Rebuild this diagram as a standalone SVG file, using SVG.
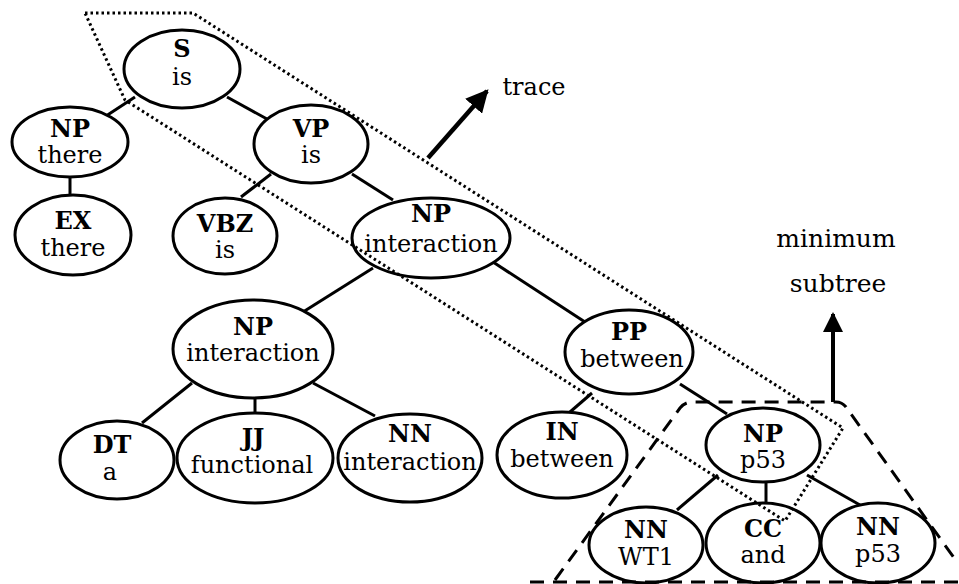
<svg xmlns="http://www.w3.org/2000/svg" width="959" height="584" viewBox="0 0 959 584">
<style>
.n ellipse{fill:#fff;stroke:#000;stroke-width:3}
.e line{stroke:#000;stroke-width:3}
text{font-family:"DejaVu Serif","Liberation Serif",serif;font-size:24px;fill:#000;text-anchor:middle}
.b{font-weight:bold}
.dot{fill:none;stroke:#000;stroke-width:3;stroke-dasharray:2.5 3}
.dash{fill:none;stroke:#000;stroke-width:3;stroke-dasharray:14 9}
</style>
<defs>
<marker id="ah" viewBox="0 0 10 10" refX="9" refY="5" markerWidth="5" markerHeight="5" orient="auto" markerUnits="strokeWidth">
<path d="M0,0 L10,5 L0,10 z" fill="#000"/>
</marker>
</defs>
<rect width="959" height="584" fill="#fff"/>
<g id="connectors" class="e">
<line x1="135" y1="97" x2="106" y2="116"/>
<line x1="227" y1="97" x2="267" y2="119"/>
<line x1="70" y1="177" x2="70" y2="195"/>
<line x1="271" y1="174" x2="241" y2="197"/>
<line x1="352" y1="174" x2="393" y2="200"/>
<line x1="373" y1="268" x2="303" y2="312"/>
<line x1="493" y1="262" x2="585" y2="322"/>
<line x1="192" y1="383" x2="142" y2="423"/>
<line x1="255" y1="397" x2="255" y2="413"/>
<line x1="313" y1="383" x2="375" y2="416"/>
<line x1="592" y1="393" x2="570" y2="412"/>
<line x1="680" y1="384" x2="727" y2="414"/>
<line x1="718" y1="475" x2="677" y2="510"/>
<line x1="766" y1="483" x2="766" y2="503"/>
<line x1="807" y1="475" x2="860" y2="505"/>
</g>
<g id="S"><g class="n"><ellipse cx="182" cy="69" rx="58" ry="39"/></g><text class="b" x="182" y="57">S</text><text x="182" y="85">is</text></g>
<g id="NP-there"><g class="n"><ellipse cx="70" cy="142" rx="58" ry="35"/></g><text class="b" x="70" y="137">NP</text><text x="70" y="163">there</text></g>
<g id="EX-there"><g class="n"><ellipse cx="73" cy="235" rx="58" ry="40"/></g><text class="b" x="73" y="229">EX</text><text x="73" y="256">there</text></g>
<g id="VP-is"><g class="n"><ellipse cx="311" cy="144" rx="57" ry="39"/></g><text class="b" x="311" y="137">VP</text><text x="311" y="163">is</text></g>
<g id="VBZ-is"><g class="n"><ellipse cx="225" cy="236" rx="52" ry="38"/></g><text class="b" x="225" y="232">VBZ</text><text x="225" y="258">is</text></g>
<g id="NP-interaction"><g class="n"><ellipse cx="431" cy="238" rx="79" ry="40"/></g><text class="b" x="431" y="222">NP</text><text x="431" y="252">interaction</text></g>
<g id="NP-interaction2"><g class="n"><ellipse cx="253" cy="349" rx="80" ry="49"/></g><text class="b" x="253" y="335">NP</text><text x="253" y="361">interaction</text></g>
<g id="DT-a"><g class="n"><ellipse cx="117" cy="460" rx="57" ry="39"/></g><text class="b" x="112" y="453">DT</text><text x="110" y="480">a</text></g>
<g id="JJ-functional"><g class="n"><ellipse cx="255" cy="458" rx="78" ry="45"/></g><text class="b" x="253" y="446">JJ</text><text x="252" y="473">functional</text></g>
<g id="NN-interaction"><g class="n"><ellipse cx="410" cy="458" rx="72" ry="44"/></g><text class="b" x="410" y="442">NN</text><text x="410" y="470">interaction</text></g>
<g id="PP-between"><g class="n"><ellipse cx="629" cy="352" rx="64" ry="42"/></g><text class="b" x="629" y="340">PP</text><text x="632" y="367">between</text></g>
<g id="IN-between"><g class="n"><ellipse cx="562" cy="455" rx="65" ry="43"/></g><text class="b" x="562" y="440">IN</text><text x="562" y="467">between</text></g>
<g id="NP-p53"><g class="n"><ellipse cx="763" cy="445" rx="57" ry="37"/></g><text class="b" x="763" y="442">NP</text><text x="763" y="468">p53</text></g>
<g id="NN-WT1"><g class="n"><ellipse cx="646" cy="545" rx="57" ry="38"/></g><text class="b" x="646" y="538">NN</text><text x="646" y="565">WT1</text></g>
<g id="CC-and"><g class="n"><ellipse cx="763" cy="543" rx="57" ry="40"/></g><text class="b" x="763" y="537">CC</text><text x="763" y="563">and</text></g>
<g id="NN-p53"><g class="n"><ellipse cx="878" cy="543" rx="57" ry="40"/></g><text class="b" x="878" y="535">NN</text><text x="878" y="562">p53</text></g>
<g id="trace-region">
<polygon class="dot" points="85,13 193,13 843,428 785,521 125,100"/>
</g>
<g id="minimum-subtree-region">
<path class="dash" d="M555,580 L680,408 Q685,402 692,402 L836,402 Q842,402 846,407 L957,562"/>
<line class="dash" x1="530" y1="582" x2="958" y2="582"/>
</g>
<g id="trace-label">
<line x1="428" y1="158" x2="487" y2="91" stroke="#000" stroke-width="4.5" marker-end="url(#ah)"/>
<text x="534" y="95">trace</text>
</g>
<g id="minimum-subtree-label">
<line x1="833" y1="402" x2="833" y2="314" stroke="#000" stroke-width="4" marker-end="url(#ah)"/>
<text x="836" y="247" style="font-size:25px">minimum</text>
<text x="838" y="292" style="font-size:25px">subtree</text>
</g>
</svg>
